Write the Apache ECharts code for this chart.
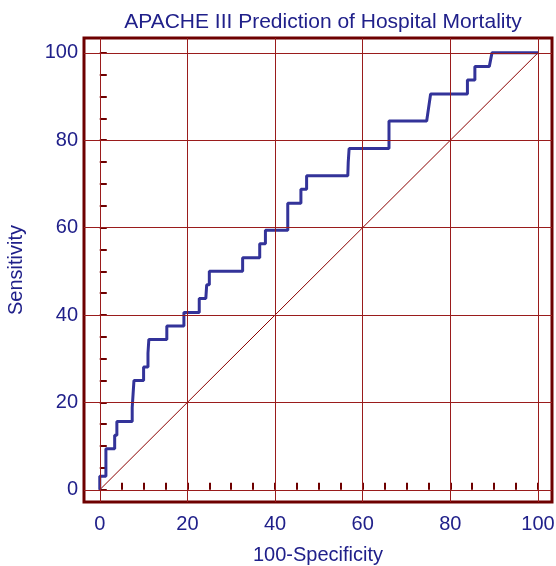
<!DOCTYPE html>
<html>
<head>
<meta charset="utf-8">
<script src="https://cdn.jsdelivr.net/npm/echarts@6/dist/echarts.min.js"></script>
<style>
  html, body { margin: 0; padding: 0; background: #fff; }
  #main { width: 556px; height: 566px; }
</style>
</head>
<body>
<div id="main"></div>
<script>
// ROC curve points: [100-Specificity, Sensitivity]
var rocX = [0, 0, 1.4, 1.4, 3.4, 3.4, 3.9, 3.9, 7.4, 7.4, 7.6, 7.6, 7.8, 7.8, 10.0, 10.0, 11.0, 11.0, 11.2, 11.2,
    15.3, 15.3, 19.2, 19.2, 22.7, 22.7, 24.2, 24.4, 25.0, 25.0, 32.6, 32.6, 36.5, 36.5, 37.8, 37.8,
    42.9, 42.9, 45.9, 45.9, 47.2, 47.2, 56.6, 56.7, 56.9, 66.0, 66.0, 74.6, 75.5, 83.9, 83.9, 85.6, 85.6,
    88.9, 89.5, 100];
var rocY = [0, 3.1, 3.1, 9.4, 9.4, 12.5, 12.5, 15.6, 15.6, 18.8, 18.8, 21.9, 21.9, 25.0, 25.0, 28.1, 28.1, 31.3, 31.3, 34.4,
    34.4, 37.5, 37.5, 40.6, 40.6, 43.8, 43.8, 46.9, 46.9, 50.0, 50.0, 53.1, 53.1, 56.3, 56.3, 59.4,
    59.4, 65.6, 65.6, 68.8, 68.8, 71.9, 71.9, 75.0, 78.1, 78.1, 84.4, 84.4, 90.6, 90.6, 93.8, 93.8, 96.9,
    96.9, 100, 100];
// reference diagonal
var diagX = [0, 100];
var diagY = [0, 100];
// tick labels
var majorTicks = [0, 20, 40, 60, 80, 100];
var minorTicks = [0, 5, 10, 15, 20, 25, 30, 35, 40, 45, 50, 55, 60, 65, 70, 75, 80, 85, 90, 95, 100];

var navy = '#20208a';
var frame = '#6e0000';
var gridColor = '#9a1c1c';
var font = 'Liberation Sans, Arial, Helvetica, sans-serif';

var rocData = rocX.map(function (x, i) { return [x, rocY[i]]; });
var diagData = diagX.map(function (x, i) { return [x, diagY[i]]; });

// gridlines as mark lines (vertical + horizontal)
var gridLines = majorTicks.map(function (v) { return { xAxis: v }; })
    .concat(majorTicks.map(function (v) { return { yAxis: v }; }));

var myChart = echarts.init(document.getElementById('main'));

var option = {
    animation: false,
    backgroundColor: '#fff',
    title: {
        text: 'APACHE III Prediction of Hospital Mortality',
        left: 318,
        textAlign: 'center',
        top: 7,
        textStyle: { color: navy, fontSize: 21, fontWeight: 'normal', fontFamily: font }
    },
    grid: {
        left: 84, right: 4, top: 38, bottom: 64,
        outerBoundsMode: 'none',
        containLabel: false,
        show: true,
        borderColor: frame,
        borderWidth: 3,
        backgroundColor: 'transparent'
    },
    xAxis: {
        type: 'value', min: -3.6, max: 103.2,
        name: '100-Specificity', nameLocation: 'middle', nameGap: 43,
        nameTextStyle: { color: navy, fontSize: 20, fontFamily: font },
        axisLine: { show: false },
        axisTick: { show: true, inside: true, length: 7, customValues: minorTicks,
            lineStyle: { color: frame, width: 2 } },
        axisLabel: { customValues: majorTicks, color: navy, fontSize: 20, margin: 12, fontFamily: font },
        splitLine: { show: false }
    },
    yAxis: {
        type: 'value', min: -2.8, max: 103.4,
        name: 'Sensitivity', nameLocation: 'middle', nameGap: 58,
        nameTextStyle: { color: navy, fontSize: 20, fontFamily: font },
        axisLine: { show: false },
        axisTick: { show: true, inside: true, length: 7, customValues: minorTicks,
            lineStyle: { color: frame, width: 2 } },
        axisLabel: { customValues: majorTicks, color: navy, fontSize: 20, margin: 6, fontFamily: font },
        splitLine: { show: false }
    },
    series: [{
        name: 'diagonal',
        type: 'line',
        data: diagData,
        symbol: 'none',
        lineStyle: { color: '#8b0000', width: 1 },
        markLine: {
            silent: true,
            symbol: 'none',
            label: { show: false },
            lineStyle: { color: gridColor, width: 1, type: 'solid' },
            data: gridLines
        },
        z: 2
    }, {
        name: 'APACHE III',
        type: 'line',
        data: rocData,
        symbol: 'none',
        lineStyle: { color: '#333399', width: 3 },
        z: 3
    }]
};

myChart.setOption(option);
</script>
</body>
</html>
